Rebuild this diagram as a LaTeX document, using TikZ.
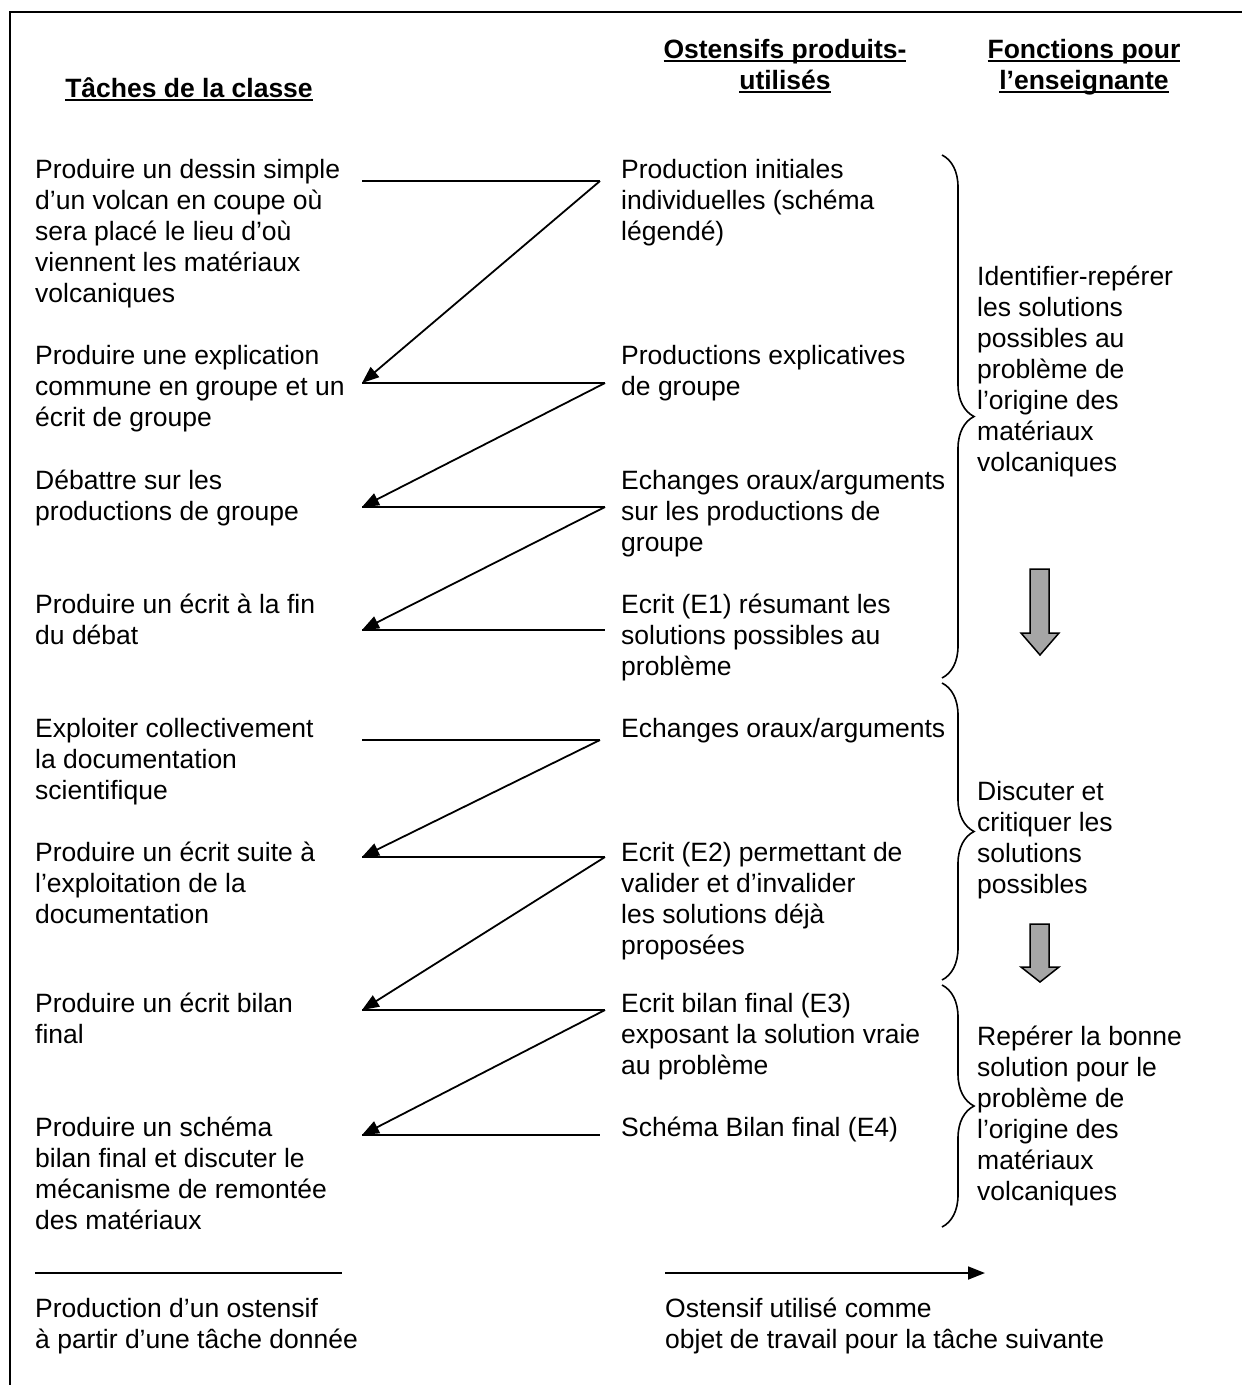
\documentclass[tikz,border=0pt]{standalone}
\usepackage{fontspec}
\setmainfont{Liberation Sans}
\usetikzlibrary{arrows.meta,decorations.pathreplacing}

% underline drawn just under the baseline, through the descenders
\newcommand\hdrline[1]{\setbox0\hbox{#1}\rlap{\rule[-4pt]{\wd0}{2pt}}\box0}
% stacked lines whose baseline is that of the first line
\newcommand\linesleft[1]{\begin{tabular}[t]{@{}l@{}}#1\end{tabular}}
\newcommand\linescenter[1]{\begin{tabular}[t]{@{}c@{}}#1\end{tabular}}

\begin{document}
\begin{tikzpicture}[x=1pt,y=-1pt,
  txt/.style={anchor=base west, inner sep=0pt,
              font=\fontsize{26.5}{31}\selectfont},
  hdr/.style={anchor=base, inner sep=0pt,
              font=\fontsize{26.5}{31}\selectfont\bfseries},
  link/.style={line width=1.8pt},
  linkarr/.style={link, -{Triangle[length=17pt,width=13pt]}},
  frame/.style={line width=2.4pt},
  bracket/.style={line width=1.6pt, decorate,
                  decoration={brace, amplitude=32pt}},
  flow/.style={fill=black!35, draw=black, line width=1.5pt, line join=miter}
]
\useasboundingbox (0,0) rectangle (1242,1385);

% open frame: top and left edges
\coordinate (fTL) at (10,12);
\coordinate (fTR) at (1242,12);
\coordinate (fBL) at (10,1385);
\draw[frame] (fBL) -- (fTL) -- (fTR);

% column headings
\node[hdr] (h1) at (189,97) {\hdrline{Tâches de la classe}};
\node[hdr] (h2) at (785,58) {\linescenter{\hdrline{Ostensifs produits-}\\\hdrline{utilisés}}};
\node[hdr] (h3) at (1084,58) {\linescenter{\hdrline{Fonctions pour}\\\hdrline{l’enseignante}}};

% tasks of the class
\node[txt] (t1) at (35,178) {\linesleft{Produire un dessin simple\\d’un volcan en coupe où\\sera placé le lieu d’où\\viennent les matériaux\\volcaniques}};
\node[txt] (t2) at (35,364) {\linesleft{Produire une explication\\commune en groupe et un\\écrit de groupe}};
\node[txt] (t3) at (35,489) {\linesleft{Débattre sur les\\productions de groupe}};
\node[txt] (t4) at (35,613) {\linesleft{Produire un écrit à la fin\\du débat}};
\node[txt] (t5) at (35,737) {\linesleft{Exploiter collectivement\\la documentation\\scientifique}};
\node[txt] (t6) at (35,861) {\linesleft{Produire un écrit suite à\\l’exploitation de la\\documentation}};
\node[txt] (t7) at (35,1012) {\linesleft{Produire un écrit bilan\\final}};
\node[txt] (t8) at (35,1136) {\linesleft{Produire un schéma\\bilan final et discuter le\\mécanisme de remontée\\des matériaux}};

% ostensives produced and used
\node[txt] (o1) at (621,178) {\linesleft{Production initiales\\individuelles (schéma\\légendé)}};
\node[txt] (o2) at (621,364) {\linesleft{Productions explicatives\\de groupe}};
\node[txt] (o3) at (621,489) {\linesleft{Echanges oraux/arguments\\sur les productions de\\groupe}};
\node[txt] (o4) at (621,613) {\linesleft{Ecrit (E1) résumant les\\solutions possibles au\\problème}};
\node[txt] (o5) at (621,737) {Echanges oraux/arguments};
\node[txt] (o6) at (621,861) {\linesleft{Ecrit (E2) permettant de\\valider et d’invalider\\les solutions déjà\\proposées}};
\node[txt] (o7) at (621,1012) {\linesleft{Ecrit bilan final (E3)\\exposant la solution vraie\\au problème}};
\node[txt] (o8) at (621,1136) {Schéma Bilan final (E4)};

% functions for the teacher
\node[txt] (f1) at (977,285) {\linesleft{Identifier-repérer\\les solutions\\possibles au\\problème de\\l’origine des\\matériaux\\volcaniques}};
\node[txt] (f2) at (977,800) {\linesleft{Discuter et\\critiquer les\\solutions\\possibles}};
\node[txt] (f3) at (977,1045) {\linesleft{Repérer la bonne\\solution pour le\\problème de\\l’origine des\\matériaux\\volcaniques}};

% end points of the zigzag links
\coordinate (a1) at (362,181);  \coordinate (b1) at (600,181);
\coordinate (a2) at (362,383);  \coordinate (b2) at (605,383);
\coordinate (a3) at (362,507);  \coordinate (b3) at (605,507);
\coordinate (a4) at (362,630);  \coordinate (b4) at (605,630);
\coordinate (a5) at (362,740);  \coordinate (b5) at (600,740);
\coordinate (a6) at (362,857);  \coordinate (b6) at (605,857);
\coordinate (a7) at (362,1010); \coordinate (b7) at (605,1010);
\coordinate (a8) at (362,1135); \coordinate (b8) at (600,1135);

% task -> ostensive (plain), ostensive -> next task (arrow)
\draw[link] (a1) -- (b1);  \draw[linkarr] (b1) -- (a2);
\draw[link] (a2) -- (b2);  \draw[linkarr] (b2) -- (a3);
\draw[link] (a3) -- (b3);  \draw[linkarr] (b3) -- (a4);
\draw[link] (a4) -- (b4);
\draw[link] (a5) -- (b5);  \draw[linkarr] (b5) -- (a6);
\draw[link] (a6) -- (b6);  \draw[linkarr] (b6) -- (a7);
\draw[link] (a7) -- (b7);  \draw[linkarr] (b7) -- (a8);
\draw[link] (a8) -- (b8);

% braces grouping the ostensives
\coordinate (br1s) at (942,155);  \coordinate (br1e) at (942,678);
\coordinate (br2s) at (942,683);  \coordinate (br2e) at (942,980);
\coordinate (br3s) at (942,985);  \coordinate (br3e) at (942,1227);
\draw[bracket] (br1s) -- (br1e);
\draw[bracket] (br2s) -- (br2e);
\draw[bracket] (br3s) -- (br3e);

% grey block arrows between the functions
\draw[flow] (1030,569) -- (1049,569) -- (1049,633) -- (1059,633)
  -- (1040,655) -- (1021,633) -- (1030,633) -- cycle;
\draw[flow] (1030,924) -- (1049,924) -- (1049,967) -- (1059,967)
  -- (1040,982) -- (1021,967) -- (1030,967) -- cycle;

% legend
\coordinate (l1s) at (35,1273);  \coordinate (l1e) at (342,1273);
\coordinate (l2s) at (665,1273); \coordinate (l2e) at (985,1273);
\draw[link] (l1s) -- (l1e);
\draw[linkarr] (l2s) -- (l2e);
\node[txt] (k1) at (35,1317) {\linesleft{Production d’un ostensif\\à partir d’une tâche donnée}};
\node[txt] (k2) at (665,1317) {\linesleft{Ostensif utilisé comme\\objet de travail pour la tâche suivante}};
\end{tikzpicture}
\end{document}
